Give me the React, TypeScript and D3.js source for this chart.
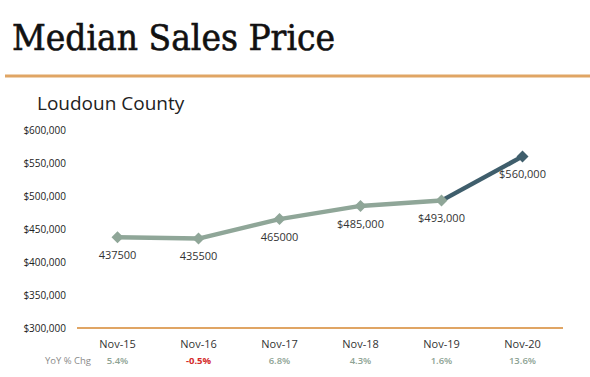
import React from "react";
import * as d3 from "d3";

const categories = ["Nov-15", "Nov-16", "Nov-17", "Nov-18", "Nov-19", "Nov-20"];
const prices = [437500, 435500, 465000, 485000, 493000, 560000];
const priceLabels = ["437500", "435500", "465000", "$485,000", "$493,000", "$560,000"];
const yoyChanges = ["5.4%", "-0.5%", "6.8%", "4.3%", "1.6%", "13.6%"];
const yTicks = [300000, 350000, 400000, 450000, 500000, 550000, 600000];

const W = 590;
const H = 377;
const SAGE = "#8fa698";
const DARK = "#3f5e6c";
const ORANGE = "#e0a564";
const SANS = "'Open Sans', 'Noto Sans', sans-serif";

export default function App() {
  const x = d3.scaleBand<string>().domain(categories).range([77, 563]);
  const y = d3.scaleLinear().domain([300000, 600000]).range([328, 130]);
  const cx = (c: string) => (x(c) as number) + x.bandwidth() / 2;
  const fmt = d3.format("$,");
  const pts = categories.map((c, i) => [cx(c), y(prices[i])] as [number, number]);
  const line = d3.line();
  const sagePath = line(pts.slice(0, 5)) as string;
  const darkPath = line(pts.slice(4)) as string;
  const diamond = (px: number, py: number) =>
    `M${px},${py - 6}L${px + 6},${py}L${px},${py + 6}L${px - 6},${py}Z`;

  return (
    <svg
      width={W}
      height={H}
      style={{ position: "absolute", left: 0, top: 0, background: "#fff" }}
    >
      <text
        x={12}
        y={50}
        fontFamily="'DejaVu Serif', serif"
        fontSize={35}
        fill="#111"
        stroke="#111"
        strokeWidth={0.6}
        textLength={323}
        lengthAdjust="spacingAndGlyphs"
      >
        Median Sales Price
      </text>
      <line x1={5} x2={590} y1={76} y2={76} stroke={ORANGE} strokeWidth={3} />
      <text x={37} y={110} fontFamily={SANS} fontSize={19} fill="#222">
        Loudoun County
      </text>

      {yTicks.map((t) => (
        <text
          key={t}
          x={66}
          y={y(t)}
          dy="0.35em"
          textAnchor="end"
          fontFamily={SANS}
          fontSize={10}
          fill="#222"
        >
          {fmt(t)}
        </text>
      ))}

      <line x1={77} x2={563} y1={y(300000)} y2={y(300000)} stroke={ORANGE} strokeWidth={2} />

      {categories.map((c, i) => (
        <g key={c}>
          <text
            x={cx(c)}
            y={344}
            dy="0.35em"
            textAnchor="middle"
            fontFamily={SANS}
            fontSize={11}
            fill="#333"
          >
            {c}
          </text>
          <text
            x={cx(c)}
            y={361}
            dy="0.35em"
            textAnchor="middle"
            fontFamily={SANS}
            fontSize={9.5}
            fontWeight={yoyChanges[i].startsWith("-") ? 700 : 600}
            fill={yoyChanges[i].startsWith("-") ? "#d42a2a" : "#8ea394"}
          >
            {yoyChanges[i]}
          </text>
        </g>
      ))}
      <text
        x={68}
        y={361}
        dy="0.35em"
        textAnchor="middle"
        fontFamily={SANS}
        fontSize={9.5}
        fill="#8a8a8a"
      >
        YoY % Chg
      </text>

      <path d={sagePath} fill="none" stroke={SAGE} strokeWidth={4.5} strokeLinejoin="round" />
      <path d={darkPath} fill="none" stroke={DARK} strokeWidth={4.5} strokeLinejoin="round" />
      {pts.map(([px, py], i) => (
        <path key={i} d={diamond(px, py)} fill={i === 5 ? DARK : SAGE} />
      ))}
      {pts.map(([px, py], i) => (
        <text
          key={"l" + i}
          x={px}
          y={py + 18}
          dy="0.35em"
          textAnchor="middle"
          fontFamily={SANS}
          fontSize={11}
          fill="#333"
        >
          {priceLabels[i]}
        </text>
      ))}
    </svg>
  );
}
